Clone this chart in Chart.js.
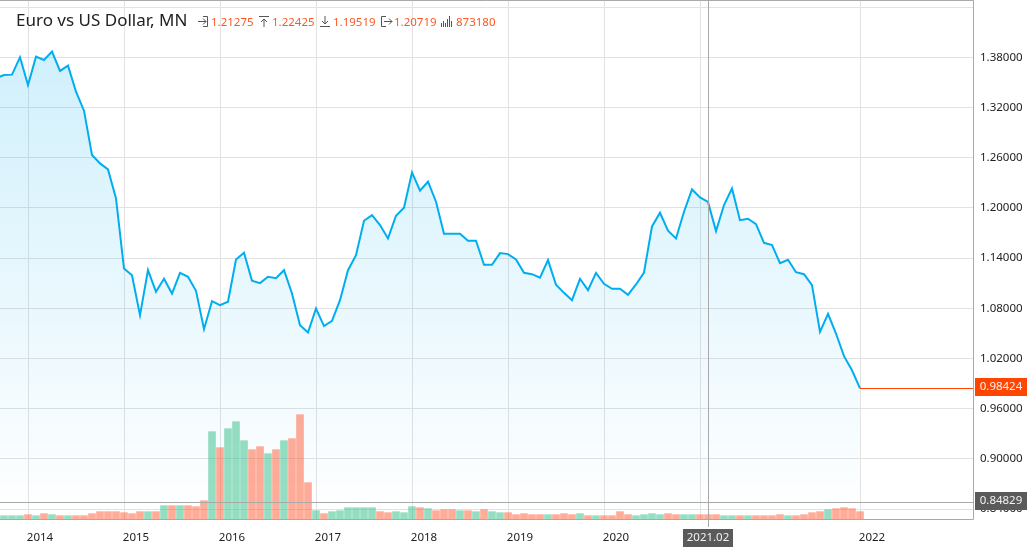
<!DOCTYPE html>
<html>
<head>
<meta charset="utf-8">
<script src="https://cdn.jsdelivr.net/npm/chart.js@4"></script>
<style>
  html, body { margin: 0; padding: 0; background: #fff; overflow: hidden; }
  canvas { display: block; }
</style>
</head>
<body>
<canvas id="chart" width="1027" height="554"></canvas>
<script>
// monthly closes, first one sits just off the left edge
const closes = [
  1.3549, 1.3589, 1.3593, 1.3800, 1.3469, 1.3808, 1.3768, 1.3868, 1.3637, 1.3700,
  1.3389, 1.3162, 1.2632, 1.2532, 1.2460, 1.2114, 1.1276, 1.1196, 1.0718, 1.1256,
  1.0997, 1.1153, 1.0977, 1.1224, 1.1177, 1.1009, 1.0551, 1.0886, 1.0838, 1.0878,
  1.1384, 1.1464, 1.1129, 1.1101, 1.1177, 1.1161, 1.1256, 1.0977, 1.0598, 1.0511,
  1.0798, 1.0587, 1.0650, 1.0897, 1.1256, 1.1436, 1.1846, 1.1914, 1.1795, 1.1635,
  1.1906, 1.2002, 1.2424, 1.2205, 1.2313, 1.2074, 1.1691, 1.1691, 1.1691, 1.1607,
  1.1607, 1.1320, 1.1320, 1.1460, 1.1448, 1.1384, 1.1224, 1.1208, 1.1165, 1.1376,
  1.1081, 1.0985, 1.0897, 1.1153, 1.1017, 1.1224, 1.1093, 1.1033, 1.1033, 1.0961,
  1.1085, 1.1228, 1.1779, 1.1942, 1.1727, 1.1635, 1.1954, 1.2221, 1.2125, 1.2072,
  1.1723, 1.2034, 1.2233, 1.1854, 1.1870, 1.1806, 1.1583, 1.1555, 1.1340, 1.1380,
  1.1232, 1.1208, 1.1077, 1.0519, 1.0734, 1.0499, 1.0228, 1.0060, 0.98424
];

// volume in thousands
const volumes = [
  667, 667, 667, 667, 867, 667, 1067, 867, 667, 667,
  667, 667, 1067, 1467, 1467, 1467, 1267, 1067, 1467, 1467,
  1467, 2667, 2667, 2667, 2667, 2467, 3667, 17467, 14267, 18067,
  19467, 15667, 13867, 14467, 13067, 13867, 15667, 16067, 20867, 7267,
  1667, 1067, 1467, 1667, 2267, 2267, 2267, 2267, 1467, 1267,
  1467, 1267, 2467, 2267, 2067, 1667, 1867, 1867, 1667, 1667,
  1467, 1867, 1467, 1267, 1267, 867, 1067, 867, 867, 867,
  867, 1067, 867, 1067, 667, 667, 667, 667, 1467, 867,
  667, 867, 1067, 867, 1067, 867, 867, 867, 867, 873,
  867, 667, 667, 667, 667, 667, 667, 667, 867, 667,
  667, 867, 1267, 1467, 1867, 2067, 2267, 2067, 1467
];

// 1 = green bar, 0 = red bar
const volumeUp = [
  1, 1, 1, 1, 0, 1, 0, 1, 0, 1,
  0, 0, 0, 0, 0, 0, 0, 0, 0, 1,
  0, 1, 0, 1, 0, 0, 0, 1, 0, 1,
  1, 1, 0, 0, 1, 0, 1, 0, 0, 0,
  1, 0, 1, 1, 1, 1, 1, 1, 0, 0,
  1, 1, 1, 0, 1, 0, 0, 0, 1, 0,
  1, 0, 1, 1, 0, 0, 0, 0, 0, 1,
  0, 0, 0, 1, 0, 1, 0, 0, 0, 0,
  1, 1, 1, 1, 0, 0, 1, 1, 0, 0,
  0, 1, 1, 0, 1, 0, 0, 0, 0, 1,
  0, 0, 0, 0, 1, 0, 0, 0, 0
];

const yearTicks = [4, 16, 28, 40, 52, 64, 76, 88, 108];
const yearLabels = ["2014", "2015", "2016", "2017", "2018", "2019", "2020", "", "2022"];
const priceTicks = [0.84, 0.90, 0.96, 1.02, 1.08, 1.14, 1.20, 1.26, 1.32, 1.38, 1.44];

const crossMonth = 89;
const crossMonthLabel = "2021.02";
const crossPrice = 0.84829;
const lastClose = 0.98424;

const headerValues = ["1.21275", "1.22425", "1.19519", "1.20719", "873180"];

const FONT = '"Noto Sans", sans-serif';
const GRID = "#e2e2e2";
const FRAME = "#a9a9a9";
const ORANGE = "#ff4500";
const DARK_BOX = "#5a5a5a";

function boxLabel(ctx, text, x, y, w, h, color) {
  ctx.fillStyle = color;
  ctx.fillRect(x, y, w, h);
  ctx.fillStyle = "#f2f2f2";
  ctx.font = "11.5px " + FONT;
  ctx.textAlign = "center";
  ctx.textBaseline = "middle";
  ctx.fillText(text, x + w / 2, y + h / 2);
}

function headerIcon(ctx, kind) {
  ctx.strokeStyle = "#555";
  ctx.lineWidth = 1;
  ctx.beginPath();
  if (kind === 0) {
    ctx.moveTo(198, 21.5); ctx.lineTo(206, 21.5);
    ctx.moveTo(203, 18.5); ctx.lineTo(206, 21.5); ctx.lineTo(203, 24.5);
    ctx.moveTo(203, 16.5); ctx.lineTo(207.5, 16.5); ctx.lineTo(207.5, 26.5); ctx.lineTo(203, 26.5);
  } else if (kind === 1) {
    ctx.moveTo(259, 16.5); ctx.lineTo(269, 16.5);
    ctx.moveTo(264, 27); ctx.lineTo(264, 19);
    ctx.moveTo(261, 22); ctx.lineTo(264, 19); ctx.lineTo(267, 22);
  } else if (kind === 2) {
    ctx.moveTo(320, 26.5); ctx.lineTo(330, 26.5);
    ctx.moveTo(325, 16); ctx.lineTo(325, 24);
    ctx.moveTo(322, 21); ctx.lineTo(325, 24); ctx.lineTo(328, 21);
  } else if (kind === 3) {
    ctx.moveTo(386, 16.5); ctx.lineTo(381.5, 16.5); ctx.lineTo(381.5, 26.5); ctx.lineTo(386, 26.5);
    ctx.moveTo(384, 21.5); ctx.lineTo(392, 21.5);
    ctx.moveTo(389, 18.5); ctx.lineTo(392, 21.5); ctx.lineTo(389, 24.5);
  } else {
    [[441.5, 23], [443.5, 21], [445.5, 23], [447.5, 19], [449.5, 16], [451.5, 21]].forEach(([bx, top]) => {
      ctx.moveTo(bx, top); ctx.lineTo(bx, 27);
    });
  }
  ctx.stroke();
}

const overlayPlugin = {
  id: "overlayPlugin",
  afterDraw(c) {
    const { ctx, chartArea, scales } = c;
    const { left, right, bottom } = chartArea;
    const crossX = Math.round(scales.x.getPixelForValue(crossMonth)) + 0.5;
    const crossY = Math.round(scales.y.getPixelForValue(crossPrice)) + 0.5;
    const lastX = scales.x.getPixelForValue(closes.length - 1);
    const lastY = Math.round(scales.y.getPixelForValue(lastClose)) + 0.5;

    ctx.save();

    // last price line
    ctx.strokeStyle = ORANGE;
    ctx.lineWidth = 1;
    ctx.beginPath();
    ctx.moveTo(lastX, lastY);
    ctx.lineTo(right, lastY);
    ctx.stroke();

    // crosshair
    ctx.strokeStyle = FRAME;
    ctx.beginPath();
    ctx.moveTo(crossX, 0);
    ctx.lineTo(crossX, bottom + 8);
    ctx.moveTo(left, crossY);
    ctx.lineTo(right, crossY);
    ctx.stroke();

    // frame
    ctx.beginPath();
    ctx.moveTo(0, 0.5);
    ctx.lineTo(right + 0.5, 0.5);
    ctx.lineTo(right + 0.5, bottom + 0.5);
    ctx.lineTo(0, bottom + 0.5);
    ctx.stroke();

    boxLabel(ctx, lastClose.toFixed(5), right + 2, lastY - 10.5, 52, 18, ORANGE);
    boxLabel(ctx, crossPrice.toFixed(5), right + 2, crossY - 10.5, 52, 18, DARK_BOX);
    boxLabel(ctx, crossMonthLabel, crossX - 25.5, bottom + 10, 50, 18, DARK_BOX);

    // header
    ctx.textAlign = "left";
    ctx.textBaseline = "alphabetic";
    ctx.fillStyle = "#222";
    ctx.font = "17px " + FONT;
    ctx.fillText("Euro vs US Dollar, MN", 16, 26);

    const headerX = [211, 272, 333, 394, 456];
    ctx.fillStyle = "#ff5722";
    ctx.font = "11.5px " + FONT;
    headerValues.forEach((v, i) => {
      ctx.fillText(v, headerX[i], 26);
      headerIcon(ctx, i);
    });

    ctx.restore();
  }
};

new Chart(document.getElementById("chart"), {
  data: {
    datasets: [
      {
        type: "bar",
        order: 1,
        yAxisID: "yVol",
        data: volumes.map((v, i) => ({ x: i, y: v })),
        barThickness: 7,
        borderWidth: 0,
        backgroundColor: volumeUp.map(u => u ? "rgba(46, 189, 133, 0.5)" : "rgba(255, 90, 50, 0.5)")
      },
      {
        type: "line",
        order: 2,
        yAxisID: "y",
        data: closes.map((v, i) => ({ x: i, y: v })),
        borderColor: "#00aeef",
        borderWidth: 2,
        borderJoinStyle: "miter",
        pointRadius: 0,
        tension: 0,
        fill: "start",
        backgroundColor: (context) => {
          const { ctx, chartArea } = context.chart;
          if (!chartArea) return "transparent";
          const g = ctx.createLinearGradient(0, 40, 0, chartArea.bottom);
          g.addColorStop(0, "rgba(0, 174, 239, 0.19)");
          g.addColorStop(1, "rgba(0, 174, 239, 0)");
          return g;
        }
      }
    ]
  },
  options: {
    responsive: false,
    animation: false,
    layout: { autoPadding: false, padding: { top: 1, left: 0, right: 0, bottom: 0 } },
    plugins: {
      legend: { display: false },
      tooltip: { enabled: false }
    },
    scales: {
      x: {
        type: "linear",
        offset: false,
        min: 0.5,
        max: 122.125,
        afterBuildTicks(axis) {
          axis.ticks = yearTicks.map(v => ({ value: v }));
        },
        afterFit(axis) {
          axis.height = 35;
        },
        border: { display: false },
        grid: { color: GRID, drawTicks: false, offset: false },
        ticks: {
          autoSkip: false,
          maxRotation: 0,
          padding: 12,
          labelOffset: 12,
          color: "#222",
          font: { family: FONT, size: 11.5 },
          callback: (v) => yearLabels[yearTicks.indexOf(v)]
        }
      },
      y: {
        position: "right",
        min: 0.8282,
        max: 1.4473,
        afterBuildTicks(axis) {
          axis.ticks = priceTicks.map(v => ({ value: v }));
        },
        afterFit(axis) {
          // no room reserved for the top label, the plot runs up to the frame
          axis.width = 54;
          axis.paddingTop = 0;
          axis.paddingBottom = 0;
        },
        border: { display: false },
        grid: { color: GRID, drawTicks: false },
        ticks: {
          autoSkip: false,
          padding: 7,
          color: "#222",
          font: { family: FONT, size: 11.5 },
          callback: (v) => v > 1.4 ? "" : v.toFixed(5)
        }
      },
      yVol: {
        display: false,
        min: 0,
        max: 103600
      }
    }
  },
  plugins: [overlayPlugin]
});
</script>
</body>
</html>
